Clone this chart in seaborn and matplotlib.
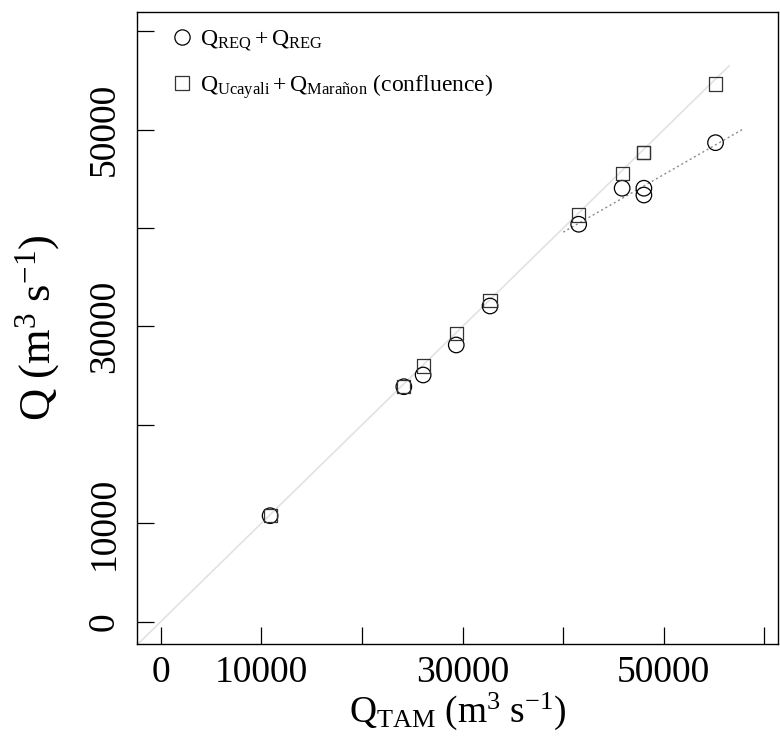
import numpy as np
import matplotlib
matplotlib.use("Agg")
import matplotlib.pyplot as plt
from matplotlib.lines import Line2D
import seaborn as sns

# discharge values (m3 s-1)
q_tam = [10870, 24160, 26080, 29370, 32730, 41540, 45860, 48020, 48020, 55140]
q_req_reg = [10770, 23880, 25070, 28120, 32080, 40390, 44050, 44050, 43360, 48680]
q_confluence = [10770, 23880, 25990, 29310, 32620, 41330, 45570, 47660, 47660, 54640]

legend_labels = [r'$\mathrm{Q_{REQ} + Q_{REG}}$',
                 r'$\mathrm{Q_{Ucayali} + Q_{Marañon}}$ (confluence)']

x_ticks = [0, 10000, 20000, 30000, 40000, 50000, 60000]
x_ticklabels = ['0', '10000', '', '30000', '', '50000', '']
y_ticks = [0, 10000, 20000, 30000, 40000, 50000, 60000]
y_ticklabels = ['0', '10000', '', '30000', '', '50000', '']

# 1:1 reference line and the high-flow fit range
one_to_one = [-2360, 56500]
fit_threshold = 40000
fit_span = [40000, 57800]

sns.set_style('ticks')
plt.rcParams['font.family'] = ['Liberation Serif', 'DejaVu Serif']
plt.rcParams['mathtext.fontset'] = 'custom'
plt.rcParams['mathtext.rm'] = 'Liberation Serif'
plt.rcParams['mathtext.it'] = 'Liberation Serif:italic'
plt.rcParams['axes.edgecolor'] = 'black'
plt.rcParams['axes.labelcolor'] = 'black'
plt.rcParams['text.color'] = 'black'
plt.rcParams['axes.linewidth'] = 1.0

fig = plt.figure(figsize=(7.8, 7.4), dpi=100)
ax = fig.add_axes([137 / 780, 1 - 644 / 740, (778 - 137) / 780, (644 - 12) / 740])

# reference lines
ax.plot(one_to_one, one_to_one, color='#e2e2e2', lw=1.2, zorder=1)
x_arr = np.array(q_tam)
y_arr = np.array(q_req_reg)
high = x_arr > fit_threshold
slope, intercept = np.polyfit(x_arr[high], y_arr[high], 1)
fx = np.array(fit_span)
ax.plot(fx, slope * fx + intercept, color='#8c8c8c', lw=1.0, ls=(0, (1.5, 2)), zorder=1)

# points
sns.scatterplot(x=q_tam, y=q_req_reg, marker='o', s=125, facecolors='none',
                edgecolor='black', linewidth=0.9, ax=ax, zorder=3)
sns.scatterplot(x=q_tam, y=q_confluence, marker='s', s=90, facecolors='none',
                edgecolor='#333333', linewidth=0.9, ax=ax, zorder=3)

ax.set_xlim(-2360, 61350)
ax.set_ylim(-2270, 61960)
ax.set_xticks(x_ticks)
ax.set_xticklabels(x_ticklabels)
ax.set_yticks(y_ticks)
ax.set_yticklabels(y_ticklabels, rotation=90, va='center')
ax.tick_params(direction='in', length=12, width=0.9, labelsize=27, colors='black')
ax.tick_params(axis='x', pad=8)
ax.tick_params(axis='y', pad=11)

ax.set_xlabel(r'$\mathrm{Q_{TAM}\ (m^{3}\ s^{-1})}$', fontsize=27, labelpad=1)
ax.set_ylabel(r'$\mathrm{Q\ (m^{3}\ s^{-1})}$', fontsize=32, labelpad=18)

handles = [Line2D([], [], marker='o', ls='none', mfc='none', mec='black', ms=11, mew=0.9),
           Line2D([], [], marker='s', ls='none', mfc='none', mec='#333333', ms=9.5, mew=0.9)]
ax.legend(handles, legend_labels, loc='upper left', bbox_to_anchor=(0.052, 0.974),
          frameon=False, fontsize=17, handlelength=1.0, handletextpad=0.26,
          borderpad=0, borderaxespad=0, labelspacing=0.8)

fig.savefig('out.png', dpi=100)
